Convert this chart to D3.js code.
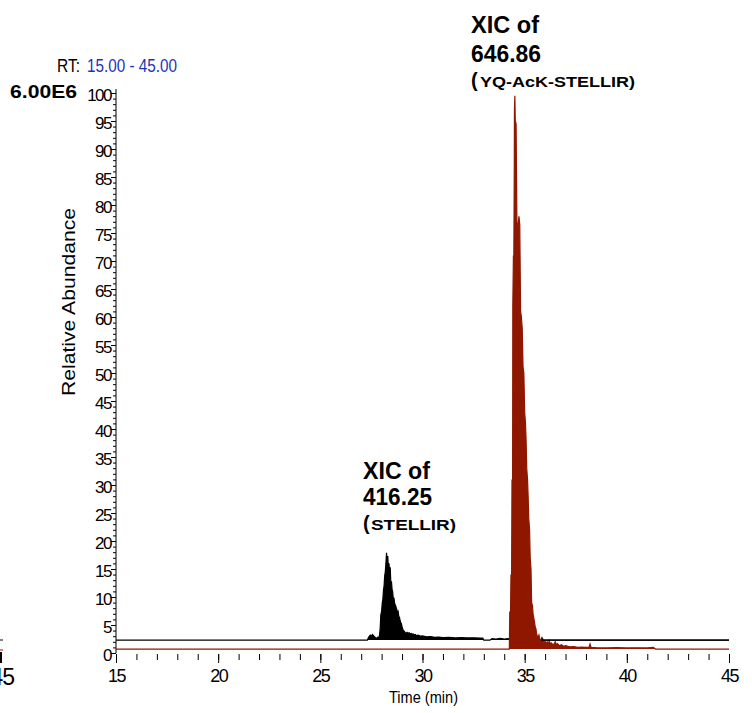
<!DOCTYPE html>
<html><head><meta charset="utf-8">
<script src="https://cdn.jsdelivr.net/npm/d3@7"></script>
<style>
html,body{margin:0;padding:0;background:#fff;}
svg{display:block;font-family:"Liberation Sans",Arial,sans-serif;}
</style></head>
<body><svg id="c" width="752" height="713"></svg>
<script>
const xMajorTicks = [15,20,25,30,35,40,45];
const yMajorTicks = [0,5,10,15,20,25,30,35,40,45,50,55,60,65,70,75,80,85,90,95,100];
const blackBaseline = 2.3;
const redBaseline = 0.7;
const blackTime = [15,27.3,27.35,27.4,27.45,27.5,27.55,27.6,27.65,27.7,27.75,27.8,27.85,27.9,27.93,27.96,28.0,28.03,28.06,28.09,28.12,28.15,28.18,28.21,28.24,28.27,28.3,28.33,28.36,28.39,28.42,28.45,28.48,28.51,28.54,28.57,28.6,28.63,28.66,28.69,28.72,28.75,28.78,28.81,28.84,28.87,28.9,28.93,28.96,29.0,29.04,29.08,29.12,29.16,29.2,29.25,29.3,29.35,29.4,29.45,29.5,29.55,29.6,29.65,29.7,29.8,29.9,30.0,30.2,30.4,30.6,30.8,31.0,31.3,31.6,31.9,32.2,32.5,32.8,32.95,33.0,33.3,33.4,33.6,33.8,34.0,34.2,34.3,35.3,35.35,35.4,35.8,35.85,35.9,45];
const blackValue = [2.3,2.3,2.7,3.0,3.2,3.0,3.3,3.1,2.9,2.7,2.6,2.8,2.7,3.2,4.5,6.8,7.5,8.9,9.6,11.2,12.0,13.8,14.5,16.0,17.9,16.2,17.3,15.1,16.0,14.2,15.3,12.5,12.8,11.4,11.0,9.6,9.9,9.0,8.6,8.4,8.0,7.7,7.2,7.4,6.5,6.4,5.9,5.5,5.3,4.7,4.2,4.0,3.8,3.6,3.5,3.7,3.5,3.6,3.4,3.5,3.3,3.4,3.2,3.3,3.1,3.2,3.0,3.05,2.9,2.95,2.8,2.85,2.75,2.8,2.7,2.75,2.7,2.72,2.68,2.65,2.3,2.3,2.55,2.5,2.6,2.5,2.55,2.3,2.3,2.7,2.3,2.3,2.7,2.3,2.3];
const redTime = [15,34.25,34.27,34.31,34.33,34.36,34.38,34.41,34.42,34.45,34.47,34.49,34.5,34.52,34.54,34.58,34.62,34.67,34.72,34.76,34.8,34.84,34.88,34.92,34.96,35.0,35.04,35.07,35.1,35.14,35.17,35.2,35.24,35.27,35.31,35.34,35.38,35.41,35.44,35.48,35.52,35.55,35.58,35.62,35.66,35.7,35.74,35.78,35.82,35.86,35.9,35.95,36.0,36.05,36.1,36.15,36.2,36.25,36.3,36.4,36.5,36.55,36.6,36.7,36.8,36.9,37.0,37.2,37.4,37.6,37.8,38.0,38.15,38.2,38.25,38.5,39.0,39.5,40.0,40.5,41.0,41.3,41.4,45];
const redValue = [0.7,0.7,7.3,7.5,14,13,31,30,62,71,70.5,85,97,99.5,95,94.5,77,76,78,76.5,61,60,58,51,50,43,41,38,33,31,28,24,22,17,15,9,8.5,7,6.4,5.5,4.6,4.4,3.5,3.0,2.8,3.2,2.4,2.2,2.6,1.9,2.3,1.8,2.1,1.6,2.0,1.5,2.2,1.6,1.8,1.4,2.0,1.3,1.7,1.3,1.5,1.2,1.3,1.1,1.15,1.0,1.05,1.0,1.0,1.6,1.0,0.95,0.9,0.95,0.9,0.92,0.9,1.0,0.7,0.7];

const svg = d3.select("#c");
const x = d3.scaleLinear().domain([15,45]).range([116,729]);
const y = d3.scaleLinear().domain([0,100]).range([653,93]);
const RED = "#8f1700";

// y axis
const yMinor = d3.range(0,101,1);
const gy = svg.append("g").attr("transform","translate(116,0)");
gy.call(d3.axisLeft(y).tickValues(yMinor).tickSize(3).tickFormat(""))
  .call(g=>g.select(".domain").remove());
const gy2 = svg.append("g").attr("transform","translate(116,0)");
gy2.call(d3.axisLeft(y).tickValues(yMajorTicks).tickSize(5).tickPadding(0).tickFormat(d3.format("d")))
  .call(g=>g.select(".domain").remove());
gy2.selectAll("text").attr("font-size",17).attr("letter-spacing","-1.5px").attr("font-family","Liberation Sans, Arial, sans-serif").attr("fill","#000").attr("dy","0.42em");
svg.append("line").attr("x1",116).attr("x2",116).attr("y1",89).attr("y2",653).attr("stroke","#000");

// x axis
const xMinor = d3.range(15,46,1);
const gx = svg.append("g").attr("transform","translate(0,654)");
gx.call(d3.axisBottom(x).tickValues(xMinor).tickSize(6).tickFormat(""))
  .call(g=>g.select(".domain").remove());
const gx2 = svg.append("g").attr("transform","translate(0,654)");
gx2.call(d3.axisBottom(x).tickValues(xMajorTicks).tickSize(9).tickPadding(6).tickFormat(d3.format("d")))
  .call(g=>g.select(".domain").remove());
gx2.selectAll("text").attr("font-size",18).attr("letter-spacing","-1.5px").attr("font-family","Liberation Sans, Arial, sans-serif").attr("fill","#000");

// traces
const blackData = blackTime.map((t,i)=>({t, v: blackValue[i]}));
const redData = redTime.map((t,i)=>({t, v: redValue[i]}));
const areaB = d3.area().x(d=>x(d.t)).y0(y(blackBaseline)).y1(d=>y(d.v));
const lineB = d3.line().x(d=>x(d.t)).y(d=>y(d.v));
svg.append("path").datum(blackData).attr("d",areaB).attr("fill","#000");
svg.append("path").datum(blackData).attr("d",lineB).attr("fill","none").attr("stroke","#000").attr("stroke-width",1.2);
const areaR = d3.area().x(d=>x(d.t)).y0(y(redBaseline)).y1(d=>y(d.v));
svg.append("path").datum(redData).attr("d",areaR).attr("fill",RED);
svg.append("path").datum(redData).attr("d",lineB).attr("fill","none").attr("stroke",RED).attr("stroke-width",1.2);
// black baseline visible over red tail
svg.append("line").attr("x1",x(35.8)).attr("x2",x(45)).attr("y1",y(blackBaseline)).attr("y2",y(blackBaseline)).attr("stroke","#000").attr("stroke-width",1.2);

// texts
function t(str, xx, yy, opts){
  const e = svg.append("text").attr("x",xx).attr("y",yy).text(str)
    .attr("font-size",opts.size).attr("font-weight",opts.bold?"bold":"normal")
    .attr("fill",opts.fill||"#000");
  if(opts.len) e.attr("textLength",opts.len).attr("lengthAdjust","spacingAndGlyphs");
  if(opts.anchor) e.attr("text-anchor",opts.anchor);
  return e;
}
t("RT:",57,72,{size:18,len:23});
t("15.00 - 45.00",87,72,{size:18,len:90,fill:"#1f33b5"});
t("6.00E6",10,98,{size:19,bold:true,len:67});
svg.append("text").attr("transform","translate(75,302) rotate(-90)").attr("text-anchor","middle")
  .attr("font-size",18).attr("textLength",188).attr("lengthAdjust","spacingAndGlyphs").text("Relative Abundance");
t("Time (min)",389,703,{size:17,len:69});

t("XIC of",471,33,{size:23,bold:true,len:68});
t("646.86",471,62,{size:23,bold:true,len:70});
t("(",471,87,{size:20,bold:true});
t("YQ-AcK-STELLIR)",480,87,{size:15,bold:true,len:155});

t("XIC of",363,479,{size:23,bold:true,len:67});
t("416.25",363,505,{size:23,bold:true,len:69});
t("(",363,530,{size:20,bold:true});
t("STELLIR)",371,530,{size:15,bold:true,len:85});

// left-edge fragment of neighbouring panel
t("45",14,685,{size:23,anchor:"end"}).attr("letter-spacing","-1px");
svg.append("line").attr("x1",0).attr("x2",3).attr("y1",640).attr("y2",640).attr("stroke","#000");
svg.append("line").attr("x1",0).attr("x2",3).attr("y1",650).attr("y2",650).attr("stroke",RED);
svg.append("line").attr("x1",1).attr("x2",1).attr("y1",652).attr("y2",663).attr("stroke","#000").attr("stroke-width",2);
</script></body></html>
